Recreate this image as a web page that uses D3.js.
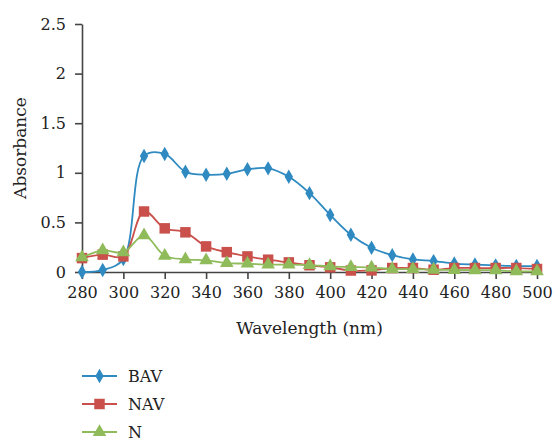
<!DOCTYPE html>
<html>
<head>
<meta charset="utf-8">
<script src="https://cdn.jsdelivr.net/npm/d3@7"></script>
<style>
  body { margin: 0; background: #fff; }
</style>
</head>
<body>
<svg id="chart" width="554" height="442"></svg>
<script>
"use strict";

// wavelengths (nm), one reading every 10 nm
var wavelengths = [280, 290, 300, 310, 320, 330, 340, 350, 360, 370, 380, 390,
                   400, 410, 420, 430, 440, 450, 460, 470, 480, 490, 500];

var bav = [0.00, 0.02, 0.13, 1.17, 1.19, 1.01, 0.98, 0.99, 1.035, 1.045, 0.96, 0.795,
           0.575, 0.375, 0.245, 0.17, 0.127, 0.11, 0.085, 0.075, 0.067, 0.06, 0.06];
var nav = [0.14, 0.175, 0.157, 0.61, 0.44, 0.40, 0.258, 0.20, 0.157, 0.124, 0.097, 0.068,
           0.047, 0.015, 0.016, 0.04, 0.04, 0.023, 0.04, 0.04, 0.04, 0.04, 0.03];
var nn  = [0.147, 0.218, 0.198, 0.37, 0.164, 0.127, 0.117, 0.09, 0.084, 0.074, 0.074, 0.07,
           0.057, 0.05, 0.045, 0.03, 0.03, 0.023, 0.02, 0.018, 0.018, 0.006, 0.006];

var xTicks = [280, 300, 320, 340, 360, 380, 400, 420, 440, 460, 480, 500];
var yTicks = [0, 0.5, 1, 1.5, 2, 2.5];
var yTickLabels = ["0", "0.5", "1", "1.5", "2", "2.5"];

var series = [
  {name: "BAV", values: bav, color: "#2e8ac0", symbol: d3.symbolDiamond, size: 60},
  {name: "NAV", values: nav, color: "#c9504b", symbol: d3.symbolSquare, size: 110},
  {name: "N",   values: nn,  color: "#8fbb5a", symbol: d3.symbolTriangle, size: 80}
];

var serif = "DejaVu Serif";

var svg = d3.select("#chart").attr("font-family", serif);
var margin = {left: 82, top: 24, right: 17, bottom: 170};
var width = 554 - margin.left - margin.right,
    height = 442 - margin.top - margin.bottom;

var x = d3.scaleLinear().domain([280, 500]).range([margin.left, margin.left + width]);
var y = d3.scaleLinear().domain([0, 2.5]).range([margin.top + height, margin.top]);

// axes
var xAxis = svg.append("g")
  .attr("transform", "translate(0," + y(0) + ")")
  .call(d3.axisBottom(x).tickValues(xTicks).tickSize(7).tickPadding(8).tickSizeOuter(0));
var yAxis = svg.append("g")
  .attr("transform", "translate(" + x(280) + ",0)")
  .call(d3.axisLeft(y).tickValues(yTicks).tickSize(7).tickPadding(9).tickSizeOuter(0)
    .tickFormat(function(d, i) { return yTickLabels[i]; }));

[xAxis, yAxis].forEach(function(g) {
  g.attr("font-family", serif).attr("font-size", 16);
  g.select(".domain").attr("stroke", "#444").attr("stroke-width", 1.6);
  g.selectAll(".tick line").attr("stroke", "#444").attr("stroke-width", 1.6);
  g.selectAll(".tick text").attr("fill", "#222");
});

svg.append("text")
  .attr("x", x(390)).attr("y", 334)
  .attr("text-anchor", "middle")
  .attr("font-size", 17)
  .attr("fill", "#222")
  .text("Wavelength (nm)");

svg.append("text")
  .attr("transform", "translate(26," + y(1.25) + ") rotate(-90)")
  .attr("text-anchor", "middle")
  .attr("font-size", 17)
  .attr("fill", "#222")
  .text("Absorbance");

// lines + markers
var line = d3.line()
  .x(function(d, i) { return x(wavelengths[i]); })
  .y(function(d) { return y(d); })
  .curve(d3.curveCatmullRom.alpha(0.5));

series.forEach(function(s) {
  var g = svg.append("g").attr("class", "series-" + s.name);
  g.append("path")
    .datum(s.values)
    .attr("fill", "none")
    .attr("stroke", s.color)
    .attr("stroke-width", 1.8)
    .attr("d", line);
  g.selectAll("path.marker")
    .data(s.values)
    .enter().append("path")
    .attr("class", "marker")
    .attr("d", d3.symbol().type(s.symbol).size(s.size))
    .attr("transform", function(d, i) { return "translate(" + x(wavelengths[i]) + "," + y(d) + ")"; })
    .attr("fill", s.color);
});

// legend
var legend = svg.append("g").attr("class", "legend");
series.forEach(function(s, i) {
  var ly = 376 + i * 28;
  legend.append("line")
    .attr("x1", 82).attr("x2", 117).attr("y1", ly).attr("y2", ly)
    .attr("stroke", s.color).attr("stroke-width", 2);
  legend.append("path")
    .attr("d", d3.symbol().type(s.symbol).size(s.size))
    .attr("transform", "translate(99.5," + ly + ")")
    .attr("fill", s.color);
  legend.append("text")
    .attr("x", 128).attr("y", ly + 6)
    .attr("font-size", 16)
    .attr("fill", "#222")
    .text(s.name);
});
</script>
</body>
</html>
